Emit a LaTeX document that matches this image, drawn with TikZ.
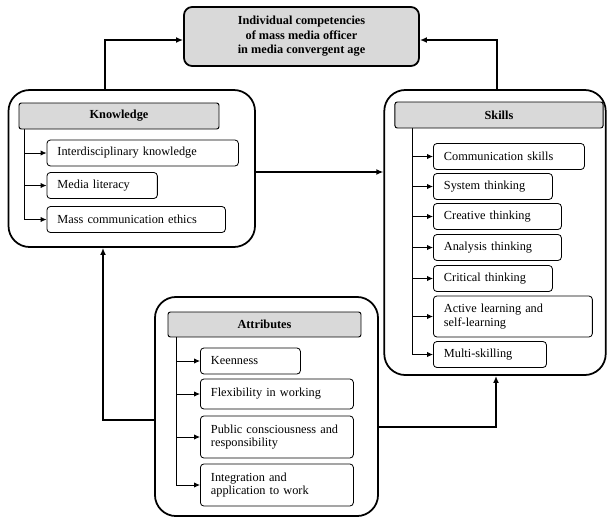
\documentclass[tikz,border=0pt]{standalone}
\usepackage{fontspec}
\setmainfont{Liberation Serif}
\usepackage{tikz}
\usetikzlibrary{arrows.meta}
\pgfdeclarelayer{edgelayer}
\pgfdeclarelayer{nodelayer}
\pgfsetlayers{edgelayer,nodelayer,main}
\definecolor{headgray}{RGB}{217,217,217}
\tikzstyle{none}=[inner sep=0pt]
\tikzstyle{goal}=[draw, fill=headgray, line width=1.5pt, rounded corners=7pt, minimum width=200.6pt, minimum height=50.4pt, align=center, font=\bfseries]
\tikzstyle{group}=[draw, line width=1.5pt, rounded corners=18pt]
\tikzstyle{header}=[draw, fill=headgray, line width=0.8pt, rounded corners=2pt, minimum height=22.2pt, font=\bfseries]
\tikzstyle{item}=[draw, line width=0.7pt, rounded corners=3pt, anchor=west, align=left, inner xsep=9pt, inner ysep=3pt, minimum height=22.2pt]
\tikzstyle{link}=[line width=1.5pt, -{Latex[length=6pt,width=5pt]}]
\tikzstyle{branch}=[line width=0.7pt, -{Latex[length=5pt,width=4.5pt]}]

\begin{document}
\fontsize{10.5}{11.8}\selectfont
\begin{tikzpicture}[x=0.03cm, y=-0.03cm]
	\useasboundingbox (0, 0) rectangle (608, 518);
	\begin{pgfonlayer}{nodelayer}
		\node [style=goal] (0) at (301.5, 36.5) {Individual competencies\\[0.6pt]of mass media officer\\[0.6pt]in media convergent age};
		\node [style=group, minimum width=210.4pt, minimum height=134pt] (1) at (131.75, 168.5) {};
		\node [style=group, minimum width=189pt, minimum height=243.3pt] (2) at (495, 232.5) {};
		\node [style=group, minimum width=190.4pt, minimum height=187pt] (3) at (266.5, 406.5) {};
		\node [style=header, minimum width=170.7pt] (4) at (119, 116) {Knowledge};
		\node [style=header, minimum width=177.6pt] (5) at (499, 115) {Skills};
		\node [style=header, minimum width=164.7pt, minimum height=21.3pt] (6) at (264.5, 324.5) {Attributes};
		\node [style=item, text width=145.5pt] (7) at (46.5, 153) {Interdisciplinary knowledge};
		\node [style=item, text width=76.3pt] (8) at (46.5, 185.5) {Media literacy};
		\node [style=item, text width=134.4pt] (9) at (46.5, 219.5) {Mass communication ethics};
		\node [style=item, text width=110.9pt] (10) at (433, 156.5) {Communication skills};
		\node [style=item, text width=83.6pt] (11) at (433, 186.5) {System thinking};
		\node [style=item, text width=91.3pt] (12) at (433, 216.5) {Creative thinking};
		\node [style=item, text width=91.3pt] (13) at (433, 247.5) {Analysis thinking};
		\node [style=item, text width=83.6pt] (14) at (433, 278.5) {Critical thinking};
		\node [style=item, text width=117.7pt, minimum height=35pt] (15) at (433, 316.5) {Active learning and\\self-learning};
		\node [style=item, text width=78.5pt] (16) at (433, 354.5) {Multi-skilling};
		\node [style=item, text width=67.4pt] (17) at (200, 361) {Keenness};
		\node [style=item, text width=112.6pt, minimum height=25.6pt] (18) at (200, 394) {Flexibility in working};
		\node [style=item, text width=112.6pt, minimum height=35.9pt] (19) at (200, 437) {Public consciousness and\\responsibility};
		\node [style=item, text width=112.6pt, minimum height=35.9pt] (20) at (200, 485) {Integration and\\application to work};
		\node [style=none] (21) at (105, 40) {};
		\node [style=none] (22) at (497, 40) {};
		\node [style=none] (23) at (300, 172) {};
		\node [style=none] (24) at (103, 420) {};
		\node [style=none] (25) at (496, 427) {};
	\end{pgfonlayer}
	\begin{pgfonlayer}{edgelayer}
		\draw [style=link] (1.north -| 21.center) |- (0.west |- 21.center);
		\draw [style=link] (2.north -| 22.center) |- (0.east |- 22.center);
		\draw [style=link] (1.east |- 23.center) to (2.west |- 23.center);
		\draw [style=link] (3.west |- 24.center) -| (1.south -| 24.center);
		\draw [style=link] (3.east |- 25.center) -| (2.south -| 25.center);
		\draw [style=branch] ([xshift=0.18cm]4.south west) |- (7.west);
		\draw [style=branch] ([xshift=0.18cm]4.south west) |- (8.west);
		\draw [style=branch] ([xshift=0.18cm]4.south west) |- (9.west);
		\draw [style=branch] ([xshift=0.54cm]5.south west) |- (10.west);
		\draw [style=branch] ([xshift=0.54cm]5.south west) |- (11.west);
		\draw [style=branch] ([xshift=0.54cm]5.south west) |- (12.west);
		\draw [style=branch] ([xshift=0.54cm]5.south west) |- (13.west);
		\draw [style=branch] ([xshift=0.54cm]5.south west) |- (14.west);
		\draw [style=branch] ([xshift=0.54cm]5.south west) |- (15.west);
		\draw [style=branch] ([xshift=0.54cm]5.south west) |- (16.west);
		\draw [style=branch] ([xshift=0.27cm]6.south west) |- (17.west);
		\draw [style=branch] ([xshift=0.27cm]6.south west) |- (18.west);
		\draw [style=branch] ([xshift=0.27cm]6.south west) |- (19.west);
		\draw [style=branch] ([xshift=0.27cm]6.south west) |- (20.west);
	\end{pgfonlayer}
\end{tikzpicture}
\end{document}
